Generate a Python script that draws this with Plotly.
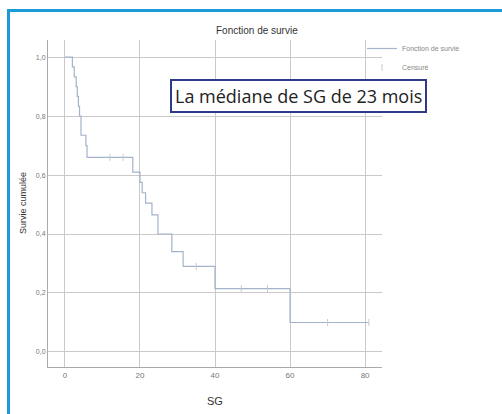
import numpy as np
import plotly.graph_objects as go

# Kaplan-Meier step data
times = [0, 2.0, 2.5, 3.0, 3.3, 3.6, 3.9, 4.3, 5.6, 5.9, 18.1, 20.0, 20.6, 21.5, 23.2, 24.8, 28.5, 31.5, 40.0, 60.0, 81.0]
survival = [1.0, 0.967, 0.933, 0.90, 0.867, 0.833, 0.80, 0.735, 0.70, 0.66, 0.61, 0.575, 0.54, 0.505, 0.465, 0.40, 0.34, 0.29, 0.215, 0.10, 0.10]
censor_times = [12.0, 15.5, 35.0, 47.0, 54.0, 70.0, 81.0]

x_ticks = [0, 20, 40, 60, 80]
x_tick_labels = ["0", "20", "40", "60", "80"]
y_ticks = [0.0, 0.2, 0.4, 0.6, 0.8, 1.0]
y_tick_labels = ["0,0", "0,2", "0,4", "0,6", "0,8", "1,0"]

t_arr = np.array(times)
s_arr = np.array(survival)
censor_surv = [float(s_arr[np.searchsorted(t_arr, c, side="right") - 1]) for c in censor_times]

curve_color = "#a3b3ca"
censor_color = "#c3cbd8"

fig = go.Figure()
fig.add_trace(go.Scatter(
    x=times, y=survival, mode="lines", line=dict(color=curve_color, width=1.2, shape="hv"),
    name="Fonction de survie"))
fig.add_trace(go.Scatter(
    x=censor_times, y=censor_surv, mode="markers",
    marker=dict(symbol="line-ns-open", size=5, color=censor_color,
                line=dict(color=censor_color, width=1)),
    name="Censuré"))

W, H = 502, 414
L, R, T, B = 48, 120, 40, 47
pw, ph = W - L - R, H - T - B

def px(xp):
    return (xp - L) / pw

def py(yp):
    return 1 - (yp - T) / ph

fig.update_layout(
    width=W, height=H,
    margin=dict(l=L, r=R, t=T, b=B),
    paper_bgcolor="white", plot_bgcolor="white",
    font=dict(family="Liberation Sans, Arial", color="#444"),
    showlegend=True,
    legend=dict(x=px(362), y=py(34), xanchor="left", yanchor="top",
                font=dict(size=7, color="#888"), itemwidth=30,
                bgcolor="rgba(0,0,0,0)", tracegroupgap=0),
    xaxis=dict(range=[-4.5, 84.5], tickvals=x_ticks, ticktext=x_tick_labels,
               showgrid=True, gridcolor="#c9c9c9", gridwidth=1,
               zeroline=False, showline=True, linecolor="#aaaaaa", linewidth=1,
               tickfont=dict(size=8, color="#777"), ticks=""),
    yaxis=dict(range=[-0.051, 1.058], tickvals=y_ticks, ticktext=y_tick_labels,
               showgrid=True, gridcolor="#c9c9c9", gridwidth=1,
               zeroline=False, showline=True, linecolor="#aaaaaa", linewidth=1,
               tickfont=dict(size=7, color="#777"), ticks=""),
)

# Title, axis titles
fig.add_annotation(text="Fonction de survie", x=px(257), y=py(30), xref="paper", yref="paper",
                   xanchor="center", yanchor="middle",
                   showarrow=False, font=dict(size=10, color="#333"))
fig.add_annotation(text="Survie cumulée", x=px(23), y=py(203), xref="paper", yref="paper",
                   xanchor="center", yanchor="middle",
                   showarrow=False, textangle=-90, font=dict(size=9, color="#333"))
fig.add_annotation(text="SG", x=px(215), y=py(401), xref="paper", yref="paper",
                   xanchor="center", yanchor="middle",
                   showarrow=False, font=dict(size=11, color="#333"))

# Median annotation box
fig.add_annotation(text="La médiane de SG de 23 mois", x=px(298), y=py(95.5),
                   xref="paper", yref="paper", xanchor="center", yanchor="middle",
                   showarrow=False,
                   font=dict(family="Open Sans", size=18, color="#222"),
                   bgcolor="white", bordercolor="#2e3a87", borderwidth=2, borderpad=3)

# Blue outer frame
blue = "#1a9ad6"
fig.add_shape(type="line", xref="paper", yref="paper", x0=px(8.5), x1=px(8.5),
              y0=py(9), y1=py(430), line=dict(color=blue, width=3))
fig.add_shape(type="line", xref="paper", yref="paper", x0=px(7), x1=px(520),
              y0=py(10.5), y1=py(10.5), line=dict(color=blue, width=3))

fig.write_html("out.html", config={"displayModeBar": False},
               post_script="document.body.style.margin='0';document.body.style.overflow='hidden';")
